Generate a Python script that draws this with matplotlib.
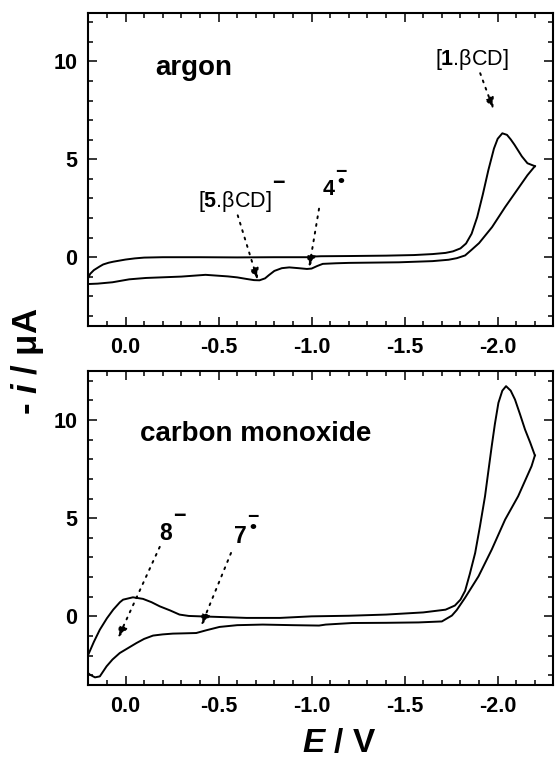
import matplotlib
matplotlib.use('Agg')
import matplotlib.pyplot as plt
from matplotlib.ticker import MultipleLocator, FormatStrFormatter

plt.rcParams['font.family'] = ['Liberation Sans', 'DejaVu Sans']
plt.rcParams['axes.unicode_minus'] = False
plt.rcParams['mathtext.fontset'] = 'custom'
plt.rcParams['mathtext.rm'] = 'Liberation Sans'
plt.rcParams['mathtext.bf'] = 'Liberation Sans:bold'
plt.rcParams['mathtext.it'] = 'Liberation Sans:italic'
plt.rcParams['mathtext.bfit'] = 'Liberation Sans:bold:italic'

# ---------------- data (E in V, -i in uA) ----------------
# argon: forward scan (0.2 -> -2.2 V)
ar_fwd_E = [0.20, 0.19, 0.17, 0.14, 0.12, 0.09, 0.066, 0.03, 0.0, -0.05, -0.10,
            -0.20, -0.40, -0.60, -0.80, -0.98, -1.00, -1.05, -1.20, -1.40, -1.55,
            -1.65, -1.72, -1.76, -1.80, -1.83, -1.86, -1.89, -1.92, -1.95, -1.98,
            -2.00, -2.025, -2.05, -2.07, -2.09, -2.11, -2.13, -2.16, -2.20]
ar_fwd_i = [-1.05, -0.85, -0.66, -0.48, -0.37, -0.28, -0.23, -0.17, -0.12, -0.06, -0.02,
            0.0, 0.0, -0.01, 0.0, 0.0, 0.03, 0.05, 0.06, 0.08, 0.11,
            0.16, 0.22, 0.30, 0.45, 0.70, 1.20, 2.05, 3.20, 4.45, 5.55,
            6.05, 6.33, 6.25, 6.02, 5.75, 5.45, 5.15, 4.80, 4.65]
# argon: reverse scan (-2.2 -> 0.2 V)
ar_rev_E = [-2.20, -2.16, -2.11, -2.04, -1.97, -1.90, -1.86, -1.825, -1.78, -1.736,
            -1.65, -1.47, -1.20, -1.13, -1.06, -1.03, -1.00, -0.975, -0.93, -0.88,
            -0.84, -0.80, -0.77, -0.75, -0.72, -0.69, -0.65, -0.60, -0.55, -0.43,
            -0.30, -0.11, -0.02, 0.07, 0.15, 0.20]
ar_rev_i = [4.65, 4.19, 3.51, 2.56, 1.54, 0.72, 0.38, 0.09, -0.05, -0.13,
            -0.20, -0.26, -0.29, -0.31, -0.34, -0.45, -0.58, -0.60, -0.56, -0.52,
            -0.56, -0.70, -0.92, -1.08, -1.18, -1.17, -1.11, -1.03, -0.98, -0.90,
            -0.99, -1.06, -1.13, -1.28, -1.35, -1.37]

# carbon monoxide: forward scan
co_fwd_E = [0.20, 0.17, 0.138, 0.10, 0.066, 0.03, 0.013, -0.04, -0.094, -0.14,
            -0.184, -0.24, -0.29, -0.34, -0.40, -0.56, -0.65, -0.83, -1.00, -1.20,
            -1.40, -1.60, -1.72, -1.77, -1.80, -1.825, -1.85, -1.879, -1.905, -1.932,
            -1.95, -1.968, -1.985, -2.004, -2.025, -2.045, -2.07, -2.093, -2.12, -2.147,
            -2.175, -2.20]
co_fwd_i = [-1.95, -1.30, -0.68, -0.10, 0.34, 0.72, 0.85, 0.97, 0.89, 0.72,
            0.51, 0.30, 0.09, 0.02, 0.0, -0.05, -0.08, -0.08, 0.0, 0.03,
            0.09, 0.20, 0.34, 0.55, 0.85, 1.30, 2.15, 3.23, 4.60, 6.12,
            7.40, 8.67, 9.80, 10.88, 11.50, 11.73, 11.50, 11.05, 10.30, 9.52,
            8.85, 8.20]
# carbon monoxide: reverse scan
co_rev_E = [-2.20, -2.182, -2.11, -2.04, -1.968, -1.897, -1.825, -1.78, -1.754, -1.70,
            -1.575, -1.40, -1.218, -1.076, -1.04, -0.90, -0.737, -0.60, -0.505, -0.434,
            -0.38, -0.30, -0.255, -0.20, -0.148, -0.10, -0.059, 0.031, 0.07, 0.102,
            0.138, 0.164, 0.19, 0.20]
co_rev_i = [8.20, 7.65, 6.12, 4.93, 3.40, 2.04, 0.95, 0.32, 0.04, -0.26,
            -0.31, -0.33, -0.34, -0.42, -0.47, -0.45, -0.42, -0.45, -0.54, -0.71,
            -0.85, -0.87, -0.88, -0.92, -0.98, -1.15, -1.36, -1.87, -2.20, -2.55,
            -3.06, -3.11, -2.98, -2.90]

panel_titles = ['argon', 'carbon monoxide']

# annotations: label, superscript, text anchor (left, baseline), arrow tail, arrow head
ar_labels = [r'[$\mathbf{1}$.βCD]', r'[$\mathbf{5}$.βCD]', '4']
ar_sups = ['', '−', '−\n•']
ar_text_pos = [(-1.665, 9.83), (-0.389, 2.55), (-1.058, 3.16)]
ar_arrow_from = [(-1.906, 9.4), (-0.603, 2.14), (-1.04, 2.48)]
ar_arrow_to = [(-1.977, 7.56), (-0.71, -1.16), (-0.987, -0.51)]
co_labels = ['8', '7']
co_sups = ['−', '−\n•']
co_text_pos = [(-0.184, 3.91), (-0.585, 3.76)]
co_arrow_from = [(-0.184, 3.54), (-0.567, 3.23)]
co_arrow_to = [(0.04, -1.10), (-0.407, -0.47)]

# ---------------- figure ----------------
fig = plt.figure(figsize=(5.56, 7.63), dpi=100)
ax1 = fig.add_axes([0.1588, 0.5731, 0.8367, 0.4105])
ax2 = fig.add_axes([0.1588, 0.1022, 0.8367, 0.4115])

TICK_FS = 15.5
for ax in (ax1, ax2):
    ax.set_xlim(0.2, -2.3)
    ax.set_ylim(-3.5, 12.5)
    ax.xaxis.set_major_locator(MultipleLocator(0.5))
    ax.xaxis.set_minor_locator(MultipleLocator(0.1))
    ax.yaxis.set_major_locator(MultipleLocator(5))
    ax.yaxis.set_minor_locator(MultipleLocator(1))
    ax.xaxis.set_major_formatter(FormatStrFormatter('%.1f'))
    ax.yaxis.set_major_formatter(FormatStrFormatter('%d'))
    ax.tick_params(which='both', direction='in', top=True, right=True, width=1.1)
    ax.tick_params(which='major', length=6.5, pad=8, labelsize=TICK_FS)
    ax.tick_params(which='minor', length=3.6)
    for s in ax.spines.values():
        s.set_linewidth(1.5)

ax1.plot(ar_fwd_E, ar_fwd_i, color='k', lw=1.4)
ax1.plot(ar_rev_E, ar_rev_i, color='k', lw=1.4)
ax2.plot(co_fwd_E, co_fwd_i, color='k', lw=1.4)
ax2.plot(co_rev_E, co_rev_i, color='k', lw=1.4)

for ax in (ax1, ax2):
    for lab in ax.get_xticklabels() + ax.get_yticklabels():
        lab.set_fontweight('bold')

ax1.text(-0.162, 9.32, panel_titles[0], fontsize=20, fontweight='bold',
         ha='left', va='baseline')
ax2.text(-0.079, 8.96, panel_titles[1], fontsize=20, fontweight='bold',
         ha='left', va='baseline')

arrow_kw = dict(arrowstyle='-|>,head_length=0.55,head_width=0.22',
                ls=(0, (1, 3)), lw=1.4, color='k', shrinkA=0, shrinkB=0,
                mutation_scale=12)

def annotate_panel(ax, labels, sups, pos, frm, to, fs, bold_main):
    for lab, sup, (et, it), (e0, i0), (e1, i1) in zip(labels, sups, pos, frm, to):
        ax.annotate('', xy=(e1, i1), xytext=(e0, i0), arrowprops=arrow_kw)
        t = ax.text(et, it, lab, fontsize=fs, ha='left', va='baseline',
                    fontweight='bold' if bold_main(lab) else 'normal')
        if sup == '−':
            ax.annotate(sup, xy=(1.0, 1.0), xycoords=t, xytext=(0.2, 4.0),
                        textcoords='offset points', ha='left', va='center',
                        fontsize=15.5, fontweight='bold')
        elif sup:
            ax.annotate(sup, xy=(1.0, 1.0), xycoords=t, xytext=(0.2, 1.5),
                        textcoords='offset points', ha='left', va='center',
                        fontsize=14, fontweight='bold', linespacing=0.42,
                        multialignment='center')

is_digit = lambda s: s.isdigit()
annotate_panel(ax1, ar_labels, ar_sups, ar_text_pos, ar_arrow_from, ar_arrow_to,
               15.5, is_digit)
annotate_panel(ax2, co_labels, co_sups, co_text_pos, co_arrow_from, co_arrow_to,
               16.5, is_digit)

fig.text(0.050, 0.526, r'- $\mathbfit{i}$ / μA', rotation=90, fontsize=25,
         fontweight='bold', ha='center', va='center')
fig.text(0.610, 0.025, r'$\mathbfit{E}$ / V', fontsize=24,
         fontweight='bold', ha='center', va='center')

fig.savefig('out.png', dpi=100)
